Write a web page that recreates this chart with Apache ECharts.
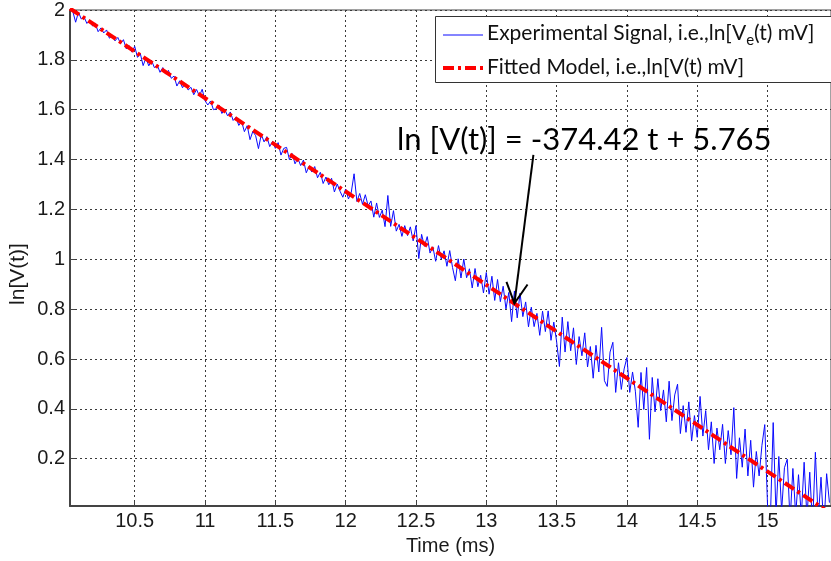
<!DOCTYPE html>
<html>
<head>
<meta charset="utf-8">
<script src="https://cdn.jsdelivr.net/npm/echarts@6/dist/echarts.min.js"></script>
<style>
  html, body { margin: 0; padding: 0; background: #ffffff; }
  #chart { width: 831px; height: 561px; }
</style>
</head>
<body>
<div id="chart"></div>
<script>
// Sample times of the recorded decay (ms)
const timeMs = [
  10.04,10.06,10.08,10.10,10.12,10.14,10.16,10.18,10.20,10.22,
  10.24,10.26,10.28,10.30,10.32,10.34,10.36,10.38,10.40,10.42,
  10.44,10.46,10.48,10.50,10.52,10.54,10.56,10.58,10.60,10.62,
  10.64,10.66,10.68,10.70,10.72,10.74,10.76,10.78,10.80,10.82,
  10.84,10.86,10.88,10.90,10.92,10.94,10.96,10.98,11.00,11.02,
  11.04,11.06,11.08,11.10,11.12,11.14,11.16,11.18,11.20,11.22,
  11.24,11.26,11.28,11.30,11.32,11.34,11.36,11.38,11.40,11.42,
  11.44,11.46,11.48,11.50,11.52,11.54,11.56,11.58,11.60,11.62,
  11.64,11.66,11.68,11.70,11.72,11.74,11.76,11.78,11.80,11.82,
  11.84,11.86,11.88,11.90,11.92,11.94,11.96,11.98,12.00,12.02,
  12.04,12.06,12.08,12.10,12.12,12.14,12.16,12.18,12.20,12.22,
  12.24,12.26,12.28,12.30,12.32,12.34,12.36,12.38,12.40,12.42,
  12.44,12.46,12.48,12.50,12.52,12.54,12.56,12.58,12.60,12.62,
  12.64,12.66,12.68,12.70,12.72,12.74,12.76,12.78,12.80,12.82,
  12.84,12.86,12.88,12.90,12.92,12.94,12.96,12.98,13.00,13.02,
  13.04,13.06,13.08,13.10,13.12,13.14,13.16,13.18,13.20,13.22,
  13.24,13.26,13.28,13.30,13.32,13.34,13.36,13.38,13.40,13.42,
  13.44,13.46,13.48,13.50,13.52,13.54,13.56,13.58,13.60,13.62,
  13.64,13.66,13.68,13.70,13.72,13.74,13.76,13.78,13.80,13.82,
  13.84,13.86,13.88,13.90,13.92,13.94,13.96,13.98,14.00,14.02,
  14.04,14.06,14.08,14.10,14.12,14.14,14.16,14.18,14.20,14.22,
  14.24,14.26,14.28,14.30,14.32,14.34,14.36,14.38,14.40,14.42,
  14.44,14.46,14.48,14.50,14.52,14.54,14.56,14.58,14.60,14.62,
  14.64,14.66,14.68,14.70,14.72,14.74,14.76,14.78,14.80,14.82,
  14.84,14.86,14.88,14.90,14.92,14.94,14.96,14.98,15.00,15.02,
  15.04,15.06,15.08,15.10,15.12,15.14,15.16,15.18,15.20,15.22,
  15.24,15.26,15.28,15.30,15.32,15.34,15.36,15.38,15.40,15.42,
  15.44
];

// ln of the measured voltage, ln[Ve(t) mV]
const lnSignal = [
  2.000,1.994,1.951,1.991,1.964,1.972,1.946,1.959,1.936,1.946,
  1.913,1.928,1.908,1.920,1.887,1.897,1.876,1.890,1.865,1.881,
  1.844,1.857,1.831,1.854,1.810,1.825,1.777,1.808,1.776,1.797,
  1.769,1.780,1.750,1.769,1.743,1.758,1.726,1.735,1.695,1.716,
  1.688,1.707,1.679,1.690,1.660,1.681,1.655,1.682,1.636,1.619,
  1.635,1.600,1.604,1.619,1.585,1.602,1.576,1.591,1.557,1.570,
  1.537,1.553,1.512,1.536,1.480,1.513,1.496,1.444,1.501,1.471,
  1.492,1.452,1.473,1.445,1.468,1.418,1.445,1.449,1.400,1.424,
  1.383,1.405,1.376,1.398,1.347,1.373,1.350,1.372,1.327,1.349,
  1.304,1.330,1.299,1.325,1.270,1.302,1.273,1.249,1.282,1.242,
  1.269,1.343,1.232,1.264,1.221,1.259,1.214,1.234,1.169,1.226,
  1.168,1.197,1.131,1.256,1.132,1.195,1.113,1.140,1.092,1.135,
  1.095,1.130,1.074,1.135,1.003,1.100,1.052,1.091,1.025,1.050,
  0.992,1.055,1.001,1.034,0.972,1.035,0.967,0.914,1.002,0.925,
  1.001,0.926,0.962,0.885,0.963,0.890,0.936,0.865,0.947,0.860,
  0.932,0.835,0.919,0.830,0.892,0.801,0.867,0.750,0.873,0.765,
  0.864,0.770,0.829,0.729,0.808,0.730,0.783,0.695,0.792,0.710,
  0.793,0.675,0.748,0.670,0.570,0.768,0.628,0.750,0.633,0.725,
  0.578,0.690,0.613,0.705,0.568,0.650,0.523,0.655,0.548,0.727,
  0.513,0.490,0.628,0.667,0.466,0.585,0.478,0.560,0.606,0.466,
  0.548,0.471,0.326,0.546,0.398,0.566,0.278,0.526,0.388,0.521,
  0.393,0.476,0.348,0.511,0.353,0.456,0.499,0.301,0.413,0.306,
  0.428,0.271,0.373,0.286,0.450,0.291,0.393,0.236,0.348,0.181,
  0.323,0.236,0.338,0.181,0.313,0.216,0.405,0.121,0.284,0.166,
  0.319,0.131,0.274,0.086,0.229,0.131,0.254,0.337,0.009,-0.039,
  0.345,-0.024,0.209,-0.009,0.164,0.198,-0.051,0.161,-0.026,0.136,
  -0.031,0.186,-0.036,0.146,-0.071,0.226,-0.046,0.126,-0.081,0.140,
  0.024
];

// Fitted model ln[V(t)] = -374.42 t + 5.765 (t in s), end points in ms
const fitTimes = [10.04, 15.45];
const fitValues = [2.006, -0.020];

// Axis tick labels
const xTicks = [10.5, 11, 11.5, 12, 12.5, 13, 13.5, 14, 14.5, 15];
const yTicks = [0.2, 0.4, 0.6, 0.8, 1, 1.2, 1.4, 1.6, 1.8, 2];

// Annotation arrow: tail and tip in data units (ms, ln V)
const arrowTail = [13.335, 1.419];
const arrowTip = [13.2, 0.823];

const legendLabels = ['Experimental Signal, i.e.,ln[V', 'e', '(t) mV]', 'Fitted Model, i.e.,ln[V(t) mV]'];
const equationText = 'ln [V(t)] = -374.42 t + 5.765';

const chart = echarts.init(document.getElementById('chart'), null, { renderer: 'canvas' });

const axisFont = { fontFamily: '"Liberation Sans", Arial, sans-serif', fontSize: 20, color: '#1a1a1a' };
const gridLine = { show: true, lineStyle: { color: '#3a3a3a', width: 1, type: [2, 3] } };

chart.setOption({
  animation: false,
  backgroundColor: '#ffffff',
  grid: {
    left: 70, top: 10, width: 763, height: 497,
    show: true, borderColor: '#444', borderWidth: 1, backgroundColor: 'transparent'
  },
  xAxis: {
    type: 'value', min: 10.04, max: 15.451,
    axisLine: { show: true, lineStyle: { color: '#444', width: 2 } },
    axisTick: { show: true, inside: true, length: 5, customValues: xTicks, lineStyle: { color: '#444' } },
    axisLabel: Object.assign({ margin: 5, customValues: xTicks, formatter: v => String(v) }, axisFont),
    splitLine: gridLine,
    name: 'Time (ms)', nameLocation: 'middle', nameGap: 29,
    nameTextStyle: { fontFamily: '"Liberation Sans", Arial, sans-serif', fontSize: 20, color: '#1a1a1a' }
  },
  yAxis: {
    type: 'value', min: 0.01, max: 2,
    axisLine: { show: true, lineStyle: { color: '#444', width: 2 } },
    axisTick: { show: true, inside: true, length: 5, customValues: yTicks, lineStyle: { color: '#444' } },
    axisLabel: Object.assign({ margin: 5, customValues: yTicks, formatter: v => String(v) }, axisFont),
    splitLine: gridLine
  },
  series: [
    {
      name: 'signal', type: 'line', showSymbol: false, symbol: 'none',
      data: timeMs.map((t, i) => [t, lnSignal[i]]),
      lineStyle: { color: '#0a0aff', width: 1 },
      z: 2
    },
    {
      name: 'fit', type: 'line', showSymbol: false, symbol: 'none',
      data: fitTimes.map((t, i) => [t, fitValues[i]]),
      lineStyle: { color: '#ff0000', width: 4, type: [11, 4, 3, 4] },
      z: 3
    }
  ]
});

// Annotation arrow and legend box
const tail = chart.convertToPixel({ gridIndex: 0 }, arrowTail);
const tip = chart.convertToPixel({ gridIndex: 0 }, arrowTip);
const dx = tail[0] - tip[0], dy = tail[1] - tip[1];
const len = Math.hypot(dx, dy);
const ux = dx / len, uy = dy / len;
const wing = 23, spread = 0.48;
function rot(a) {
  return [tip[0] + wing * (ux * Math.cos(a) - uy * Math.sin(a)),
          tip[1] + wing * (ux * Math.sin(a) + uy * Math.cos(a))];
}
const w1 = rot(spread), w2 = rot(-spread);

const legendFont = 'Lato, "Liberation Sans", sans-serif';

chart.setOption({
  graphic: [
    { type: 'line', shape: { x1: tail[0], y1: tail[1], x2: tip[0], y2: tip[1] },
      style: { stroke: '#000', lineWidth: 2 }, z: 50 },
    { type: 'polyline', shape: { points: [w1, tip, w2] },
      style: { stroke: '#000', lineWidth: 2, fill: null }, z: 50 },
    { type: 'text', x: 397, y: 140, z: 50,
      style: { text: equationText, font: '31px ' + legendFont, fill: '#000',
               textAlign: 'left', textVerticalAlign: 'middle' } },
    { type: 'rect', shape: { x: 435.5, y: 16.5, width: 420, height: 66 },
      style: { fill: '#fff', stroke: '#333', lineWidth: 1 }, z: 60 },
    { type: 'line', shape: { x1: 443, y1: 35, x2: 483, y2: 35 },
      style: { stroke: '#0a0aff', lineWidth: 1 }, z: 61 },
    { type: 'line', shape: { x1: 443, y1: 68, x2: 483, y2: 68 },
      style: { stroke: '#ff0000', lineWidth: 4, lineDash: [11, 4, 3, 4] }, z: 61 },
    { type: 'text', x: 487, y: 33, z: 61,
      style: {
        text: '{a|' + legendLabels[0] + '}{s|' + legendLabels[1] + '}{a|' + legendLabels[2] + '}',
        textVerticalAlign: 'middle',
        rich: {
          a: { fontFamily: legendFont, fontSize: 21, fill: '#111', color: '#111' },
          s: { fontFamily: legendFont, fontSize: 15, fill: '#111', color: '#111', padding: [14, 0, 0, 0] }
        }
      } },
    { type: 'text', x: 487, y: 67, z: 61,
      style: { text: legendLabels[3], font: '21px ' + legendFont, fill: '#111',
               textAlign: 'left', textVerticalAlign: 'middle' } },
    { type: 'text', x: 18, y: 274, rotation: Math.PI / 2, z: 61,
      style: { text: 'ln[V(t)]', font: '21px "Liberation Sans", Arial, sans-serif', fill: '#1a1a1a',
               textAlign: 'center', textVerticalAlign: 'middle' } }
  ]
});
</script>
</body>
</html>
